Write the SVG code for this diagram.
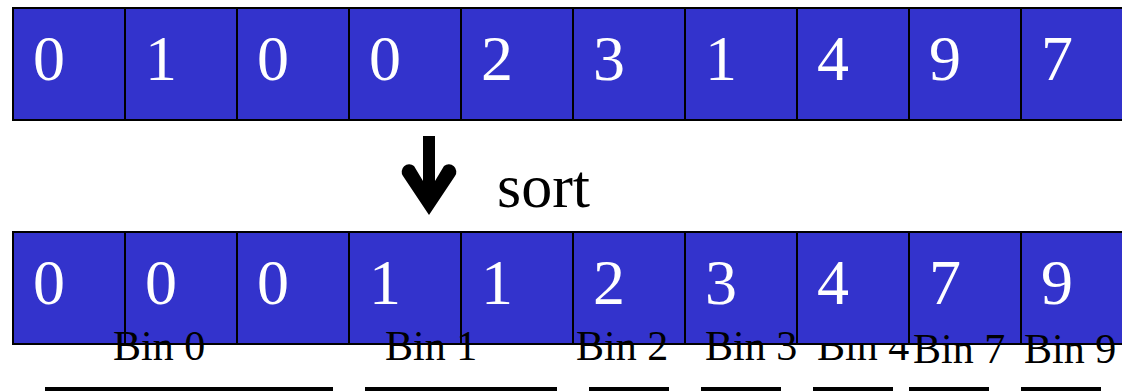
<svg xmlns="http://www.w3.org/2000/svg" width="1122" height="391" viewBox="0 0 1122 391">
<style>
.cell{fill:#3333CC;stroke:#000;stroke-width:2}
.dig{font-family:"Liberation Serif","Times New Roman",serif;font-size:64px;fill:#fff}
.bin{font-family:"Liberation Serif","Times New Roman",serif;font-size:42px;fill:#000}
.ul{stroke:#000;stroke-width:4}
.sort{font-family:"Liberation Serif","Times New Roman",serif;font-size:62px;fill:#000}
</style>
<rect width="1122" height="391" fill="#fff"/>
<g id="top-row">
<g id="t0"><rect class="cell" x="13" y="8" width="112" height="112"/><text class="dig" x="33" y="80">0</text></g>
<g id="t1"><rect class="cell" x="125" y="8" width="112" height="112"/><text class="dig" x="145" y="80">1</text></g>
<g id="t2"><rect class="cell" x="237" y="8" width="112" height="112"/><text class="dig" x="257" y="80">0</text></g>
<g id="t3"><rect class="cell" x="349" y="8" width="112" height="112"/><text class="dig" x="369" y="80">0</text></g>
<g id="t4"><rect class="cell" x="461" y="8" width="112" height="112"/><text class="dig" x="481" y="80">2</text></g>
<g id="t5"><rect class="cell" x="573" y="8" width="112" height="112"/><text class="dig" x="593" y="80">3</text></g>
<g id="t6"><rect class="cell" x="685" y="8" width="112" height="112"/><text class="dig" x="705" y="80">1</text></g>
<g id="t7"><rect class="cell" x="797" y="8" width="112" height="112"/><text class="dig" x="817" y="80">4</text></g>
<g id="t8"><rect class="cell" x="909" y="8" width="112" height="112"/><text class="dig" x="929" y="80">9</text></g>
<g id="t9"><rect class="cell" x="1021" y="8" width="112" height="112"/><text class="dig" x="1041" y="80">7</text></g>
</g>
<g id="connectors">
<path d="M429 215 L403 176 A7.5 7.5 0 0 1 414 166 L423 181 L423 136 L435 136 L435 181 L444 166 A7.5 7.5 0 0 1 455 176 Z" fill="#000"/>
</g>
<g id="sort-label"><text class="sort" x="497" y="207">sort</text></g>
<g id="bin4-label"><text class="bin" x="817" y="360">Bin 4</text></g>
<g id="bottom-row">
<g id="b0"><rect class="cell" x="13" y="232" width="112" height="112"/><text class="dig" x="33" y="304">0</text></g>
<g id="b1"><rect class="cell" x="125" y="232" width="112" height="112"/><text class="dig" x="145" y="304">0</text></g>
<g id="b2"><rect class="cell" x="237" y="232" width="112" height="112"/><text class="dig" x="257" y="304">0</text></g>
<g id="b3"><rect class="cell" x="349" y="232" width="112" height="112"/><text class="dig" x="369" y="304">1</text></g>
<g id="b4"><rect class="cell" x="461" y="232" width="112" height="112"/><text class="dig" x="481" y="304">1</text></g>
<g id="b5"><rect class="cell" x="573" y="232" width="112" height="112"/><text class="dig" x="593" y="304">2</text></g>
<g id="b6"><rect class="cell" x="685" y="232" width="112" height="112"/><text class="dig" x="705" y="304">3</text></g>
<g id="b7"><rect class="cell" x="797" y="232" width="112" height="112"/><text class="dig" x="817" y="304">4</text></g>
<g id="b8"><rect class="cell" x="909" y="232" width="112" height="112"/><text class="dig" x="929" y="304">7</text></g>
<g id="b9"><rect class="cell" x="1021" y="232" width="112" height="112"/><text class="dig" x="1041" y="304">9</text></g>
</g>
<g id="bins">
<g id="bin0"><text class="bin" x="113" y="360">Bin 0</text><line class="ul" x1="45" y1="389" x2="333" y2="389"/></g>
<g id="bin1"><text class="bin" x="385" y="360">Bin 1</text><line class="ul" x1="365" y1="389" x2="557" y2="389"/></g>
<g id="bin2"><text class="bin" x="576" y="360">Bin 2</text><line class="ul" x1="589" y1="389" x2="669" y2="389"/></g>
<g id="bin3"><text class="bin" x="705" y="360">Bin 3</text><line class="ul" x1="701" y1="389" x2="781" y2="389"/></g>
<g id="bin4"><line class="ul" x1="813" y1="389" x2="893" y2="389"/></g>
<g id="bin7"><text class="bin" x="913" y="363">Bin 7</text><line class="ul" x1="909" y1="389" x2="989" y2="389"/></g>
<g id="bin9"><text class="bin" x="1024" y="363">Bin 9</text><line class="ul" x1="1021" y1="389" x2="1101" y2="389"/></g>
</g>
</svg>
